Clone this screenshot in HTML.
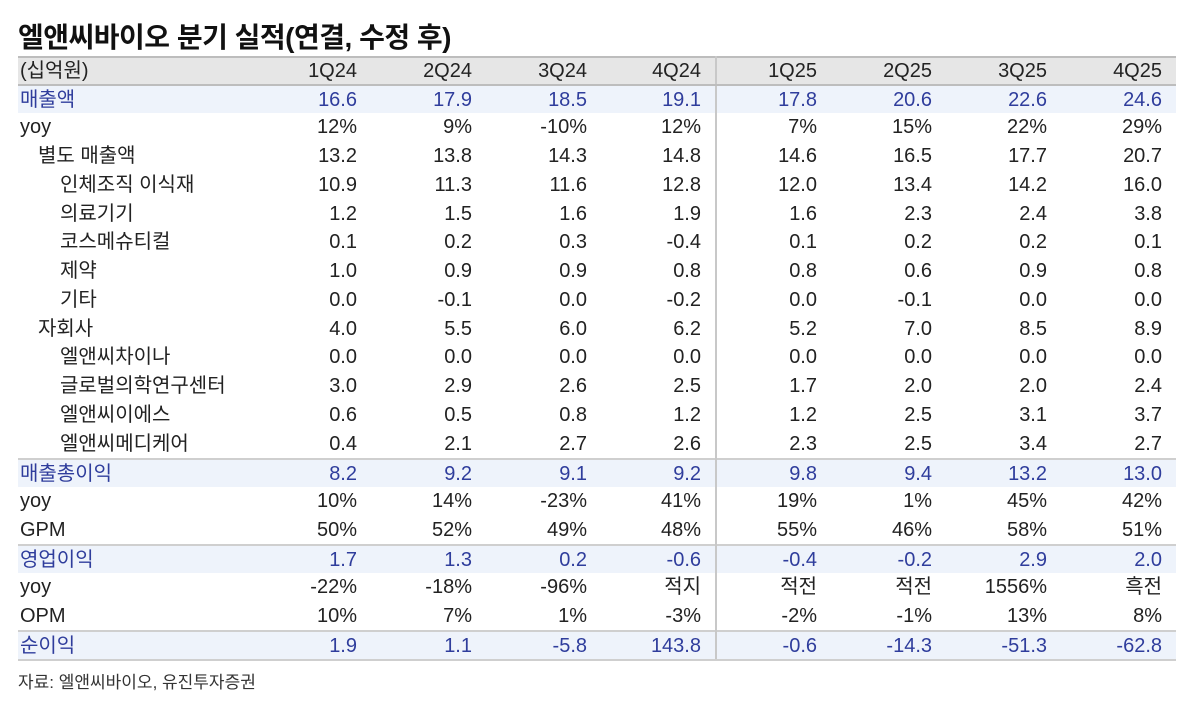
<!DOCTYPE html>
<html><head><meta charset="utf-8"><style>
body{margin:0;background:#fff;width:1199px;height:712px;overflow:hidden;font-family:"Liberation Sans","Noto Sans CJK KR",sans-serif;color:#222}
.title{position:absolute;left:18px;top:16px;font-size:28px;font-weight:bold;color:#111;letter-spacing:-0.5px}
table{position:absolute;left:18px;top:56px;border-collapse:collapse;width:1158px;table-layout:fixed;font-size:20px}
td{padding:0 14px 0 0;text-align:right;white-space:nowrap;line-height:1}
td:first-child{text-align:left;padding-left:2px}
td:nth-child(5){border-right:2px solid #c8c8c8}
tr.h td{background:#e6e6e6;border-top:2px solid #bdbdbd;border-bottom:2px solid #bdbdbd;height:26px;color:#222}
tr.b td{background:#eef3fb;color:#2f3d9c;height:27px}
tr.b2 td{border-top:2px solid #cfcfcf}
tr.last td{border-bottom:2px solid #cfcfcf}
tr.r td{height:28.75px}
tr.s td{height:28.5px}
.i1{padding-left:20px!important}.i2{padding-left:42px!important}
.src{position:absolute;left:18px;top:668px;font-size:17px;color:#333}
</style></head><body>
<div class="title">엘앤씨바이오 분기 실적(연결, 수정 후)</div>
<table>
<colgroup><col style="width:238px"><col><col><col><col><col><col><col><col></colgroup>
<tr class="h"><td>(십억원)</td><td>1Q24</td><td>2Q24</td><td>3Q24</td><td>4Q24</td><td>1Q25</td><td>2Q25</td><td>3Q25</td><td>4Q25</td></tr>
<tr class="b"><td>매출액</td><td>16.6</td><td>17.9</td><td>18.5</td><td>19.1</td><td>17.8</td><td>20.6</td><td>22.6</td><td>24.6</td></tr>
<tr class="r"><td>yoy</td><td>12%</td><td>9%</td><td>-10%</td><td>12%</td><td>7%</td><td>15%</td><td>22%</td><td>29%</td></tr>
<tr class="r"><td class="i1">별도 매출액</td><td>13.2</td><td>13.8</td><td>14.3</td><td>14.8</td><td>14.6</td><td>16.5</td><td>17.7</td><td>20.7</td></tr>
<tr class="r"><td class="i2">인체조직 이식재</td><td>10.9</td><td>11.3</td><td>11.6</td><td>12.8</td><td>12.0</td><td>13.4</td><td>14.2</td><td>16.0</td></tr>
<tr class="r"><td class="i2">의료기기</td><td>1.2</td><td>1.5</td><td>1.6</td><td>1.9</td><td>1.6</td><td>2.3</td><td>2.4</td><td>3.8</td></tr>
<tr class="r"><td class="i2">코스메슈티컬</td><td>0.1</td><td>0.2</td><td>0.3</td><td>-0.4</td><td>0.1</td><td>0.2</td><td>0.2</td><td>0.1</td></tr>
<tr class="r"><td class="i2">제약</td><td>1.0</td><td>0.9</td><td>0.9</td><td>0.8</td><td>0.8</td><td>0.6</td><td>0.9</td><td>0.8</td></tr>
<tr class="r"><td class="i2">기타</td><td>0.0</td><td>-0.1</td><td>0.0</td><td>-0.2</td><td>0.0</td><td>-0.1</td><td>0.0</td><td>0.0</td></tr>
<tr class="r"><td class="i1">자회사</td><td>4.0</td><td>5.5</td><td>6.0</td><td>6.2</td><td>5.2</td><td>7.0</td><td>8.5</td><td>8.9</td></tr>
<tr class="r"><td class="i2">엘앤씨차이나</td><td>0.0</td><td>0.0</td><td>0.0</td><td>0.0</td><td>0.0</td><td>0.0</td><td>0.0</td><td>0.0</td></tr>
<tr class="r"><td class="i2">글로벌의학연구센터</td><td>3.0</td><td>2.9</td><td>2.6</td><td>2.5</td><td>1.7</td><td>2.0</td><td>2.0</td><td>2.4</td></tr>
<tr class="r"><td class="i2">엘앤씨이에스</td><td>0.6</td><td>0.5</td><td>0.8</td><td>1.2</td><td>1.2</td><td>2.5</td><td>3.1</td><td>3.7</td></tr>
<tr class="r"><td class="i2">엘앤씨메디케어</td><td>0.4</td><td>2.1</td><td>2.7</td><td>2.6</td><td>2.3</td><td>2.5</td><td>3.4</td><td>2.7</td></tr>
<tr class="b b2"><td>매출총이익</td><td>8.2</td><td>9.2</td><td>9.1</td><td>9.2</td><td>9.8</td><td>9.4</td><td>13.2</td><td>13.0</td></tr>
<tr class="s"><td>yoy</td><td>10%</td><td>14%</td><td>-23%</td><td>41%</td><td>19%</td><td>1%</td><td>45%</td><td>42%</td></tr>
<tr class="s"><td>GPM</td><td>50%</td><td>52%</td><td>49%</td><td>48%</td><td>55%</td><td>46%</td><td>58%</td><td>51%</td></tr>
<tr class="b b2"><td>영업이익</td><td>1.7</td><td>1.3</td><td>0.2</td><td>-0.6</td><td>-0.4</td><td>-0.2</td><td>2.9</td><td>2.0</td></tr>
<tr class="s"><td>yoy</td><td>-22%</td><td>-18%</td><td>-96%</td><td>적지</td><td>적전</td><td>적전</td><td>1556%</td><td>흑전</td></tr>
<tr class="s"><td>OPM</td><td>10%</td><td>7%</td><td>1%</td><td>-3%</td><td>-2%</td><td>-1%</td><td>13%</td><td>8%</td></tr>
<tr class="b b2 last"><td>순이익</td><td>1.9</td><td>1.1</td><td>-5.8</td><td>143.8</td><td>-0.6</td><td>-14.3</td><td>-51.3</td><td>-62.8</td></tr>
</table>
<div class="src">자료: 엘앤씨바이오, 유진투자증권</div>
</body></html>
